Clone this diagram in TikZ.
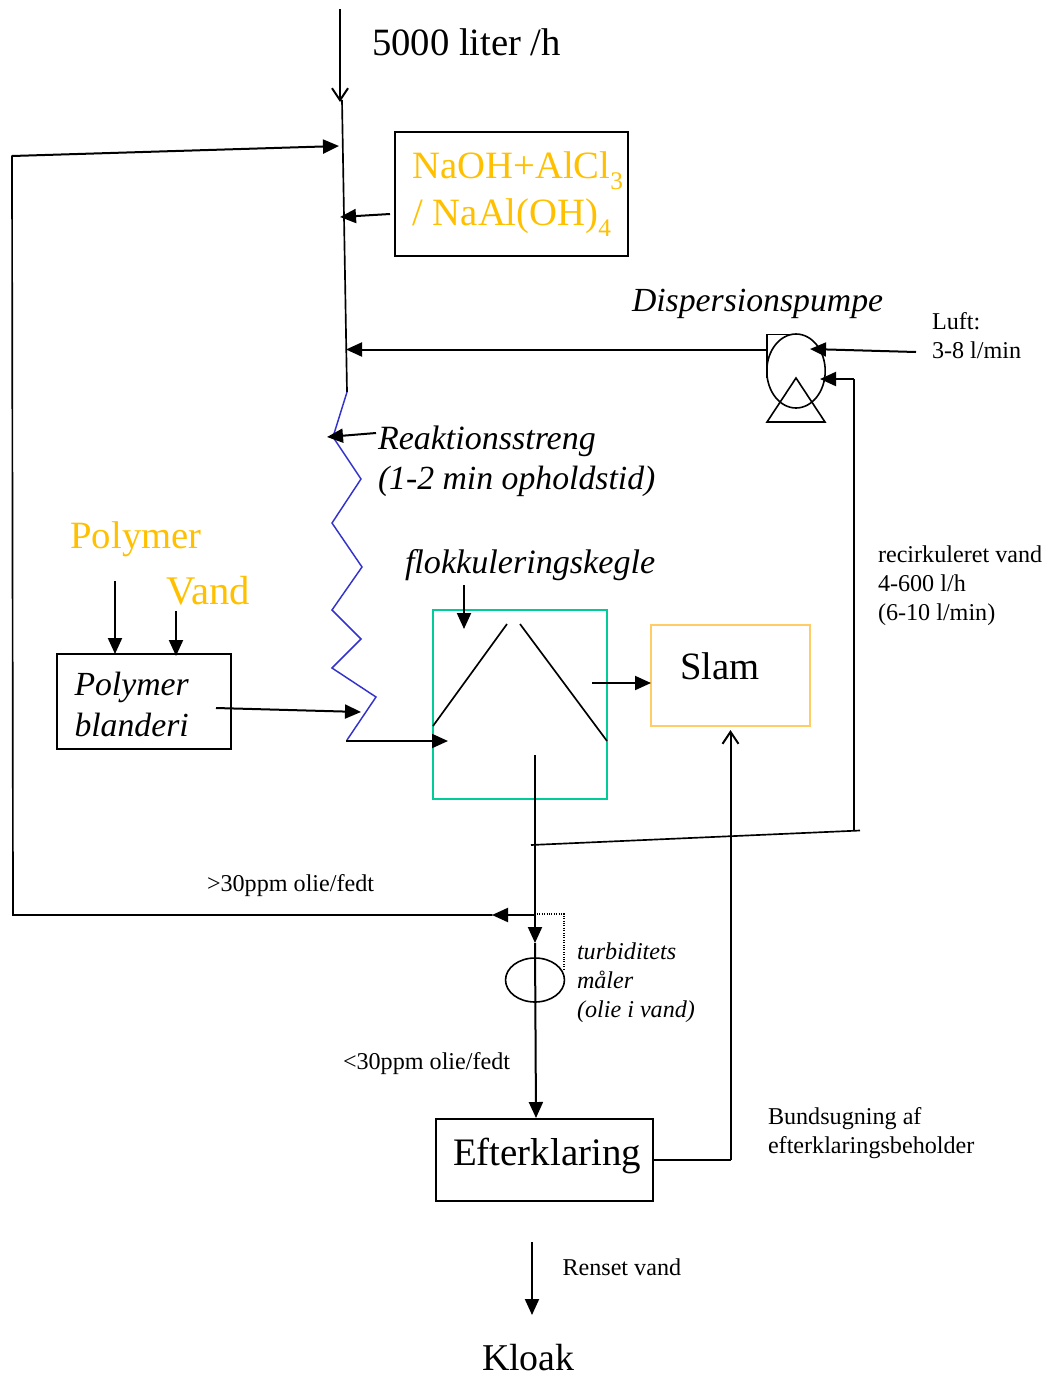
\documentclass[tikz,border=0pt]{standalone}
\usepackage{fontspec}
\setmainfont{Liberation Serif}
\usetikzlibrary{arrows.meta,shapes.geometric}
\definecolor{chemyellow}{HTML}{FFC000}
\definecolor{zigblue}{HTML}{3333CC}
\definecolor{conegreen}{HTML}{00CC99}
\definecolor{slamorange}{HTML}{FFCC66}
\newcommand{\fsBig}{\fontsize{29}{34}\selectfont}
\newcommand{\fsMid}{\fontsize{25.5}{30}\selectfont}
\newcommand{\fsSmall}{\fontsize{18.1}{22}\selectfont}
\newcommand{\subdown}[1]{\raisebox{-0.3em}{\fontsize{19}{22}\selectfont #1}}
\tikzset{
  x=0.75pt,y=-0.75pt,
  txt/.style={anchor=base west,inner sep=0pt,outer sep=0pt},
  big/.style={txt,font=\fsBig},
  mid/.style={txt,font=\fsMid\itshape},
  small/.style={txt,font=\fsSmall},
  smallit/.style={txt,font=\fsSmall\itshape},
  chem/.style={txt,font=\fsBig,text=chemyellow},
  thinline/.style={line width=1.25pt},
  flow/.style={line width=1.5pt},
  arr/.style={flow,-{Triangle[length=12pt,width=10.5pt]}},
  openarr/.style={flow,-{Straight Barb[length=9pt,width=12pt,line width=1.5pt]}},
  boxshape/.style={draw,line width=1.2pt,rectangle,inner sep=0pt,outer sep=0pt},
  pt/.style={inner sep=0pt,outer sep=0pt}
}
\begin{document}
\begin{tikzpicture}
\useasboundingbox (0,0) rectangle (1051,1375);
% boxes
\node[boxshape,minimum width=174.6pt,minimum height=93pt] (dose) at (511.5,194) {};
\node[boxshape,minimum width=130.5pt,minimum height=71.2pt] (mixer) at (144,701.5) {};
\node[boxshape,draw=conegreen,minimum width=130.5pt,minimum height=141.7pt] (cone) at (520,704.5) {};
\node[boxshape,draw=slamorange,minimum width=119.2pt,minimum height=75.7pt] (slam) at (730.5,675.5) {};
\node[boxshape,minimum width=162.7pt,minimum height=61.5pt] (after) at (544.5,1160) {};
% texts
\node[big] (tInflow) at (372,55) {5000 liter /h};
\node[chem] (tDoseA) at (412.5,178) {NaOH+AlCl\subdown{3}};
\node[chem] (tDoseB) at (412.5,225) {/ NaAl(OH)\subdown{4}};
\node[mid,font=\fontsize{25.3}{30}\selectfont\itshape] (tPump) at (632,311) {Dispersionspumpe};
\node[small] (tLuftA) at (932,329) {Luft:};
\node[small] (tLuftB) at (932,358) {3-8 l/min};
\node[mid] (tReakA) at (378,449.5) {Reaktionsstreng};
\node[mid,font=\fontsize{25.3}{30}\selectfont\itshape] (tReakB) at (378,489.5) {(1-2 min opholdstid)};
\node[chem] (tPolymer) at (70.5,548) {Polymer};
\node[chem,font=\fontsize{30.5}{36}\selectfont] (tVand) at (166.5,604) {Vand};
\node[mid,font=\fontsize{25.6}{30}\selectfont\itshape] (tFlok) at (405,573.5) {flokkuleringskegle};
\node[mid,font=\fontsize{25.3}{30}\selectfont\itshape] (tMixA) at (74.5,695) {Polymer};
\node[mid,font=\fontsize{25.3}{30}\selectfont\itshape] (tMixB) at (74.5,736) {blanderi};
\node[big] (tSlam) at (680,679) {Slam};
\node[small] (tRecA) at (878,562) {recirkuleret vand};
\node[small] (tRecB) at (878,591) {4-600 l/h};
\node[small] (tRecC) at (878,620) {(6-10 l/min)};
\node[small] (tHigh) at (207,891) {>30ppm olie/fedt};
\node[smallit] (tTurbA) at (577,959) {turbiditets};
\node[smallit] (tTurbB) at (577,988) {måler};
\node[smallit] (tTurbC) at (577,1017) {(olie i vand)};
\node[small] (tLow) at (343,1069) {<30ppm olie/fedt};
\node[small] (tBundA) at (768,1124) {Bundsugning af};
\node[small] (tBundB) at (768,1153) {efterklaringsbeholder};
\node[big,font=\fontsize{29.2}{34}\selectfont] (tAfter) at (453,1165) {Efterklaring};
\node[small] (tRenset) at (562.5,1275) {Renset vand};
\node[big,font=\fontsize{28.4}{33}\selectfont] (tKloak) at (482,1370) {Kloak};
% free connector ends
\coordinate (inTop) at (340,9);
\coordinate (inEnd) at (340,102);
\coordinate (mainTop) at (342,100);
\coordinate (mainBot) at (347,392);
\coordinate (z1) at (333,437);
\coordinate (z2) at (361,479);
\coordinate (z3) at (332,523);
\coordinate (z4) at (362,567);
\coordinate (z5) at (332,610);
\coordinate (z6) at (361,639);
\coordinate (z7) at (332,668);
\coordinate (z8) at (376,697);
\coordinate (z9) at (347,740);
\coordinate (coneIn) at (448,741);
\coordinate (z9b) at (346,741);
\coordinate (mixOut) at (216,708);
\coordinate (mixIn) at (361,712);
\coordinate (reakFrom) at (376,433);
\coordinate (reakTo) at (327,437);
\coordinate (doseFrom) at (390,214);
\coordinate (doseTo) at (340,217);
\coordinate (pumpOut) at (767,349.5);
\coordinate (pumpTo) at (346,349.5);
\coordinate (recTop) at (854,379);
\coordinate (recPump) at (820,379);
\coordinate (recBot) at (854,830);
\coordinate (splitR) at (860,830.5);
\coordinate (splitL) at (531,845);
\coordinate (backTopL) at (12,156);
\coordinate (backTopR) at (339,146);
\coordinate (backBotL) at (13,915);
\coordinate (backJ) at (535,915);
\coordinate (backTip) at (492,915);
\coordinate (dotC) at (564,914);
\coordinate (dotE) at (564,970);
\coordinate (dotS) at (537,914);
\coordinate (coneOut) at (535,755);
\coordinate (meterTip) at (535,943);
\coordinate (afterIn) at (536,1118);
\coordinate (afterOut) at (654,1160);
\coordinate (bundC) at (730.5,1160);
\coordinate (bundTo) at (730.5,730);
\coordinate (slamFrom) at (592,683);
\coordinate (slamTo) at (651,683);
\coordinate (coneL1) at (433,726);
\coordinate (coneL2) at (507,624);
\coordinate (coneR1) at (520,624);
\coordinate (coneR2) at (607,741);
\coordinate (flokFrom) at (464,585);
\coordinate (flokTo) at (464,629);
\coordinate (polyFrom) at (115,581);
\coordinate (polyTo) at (115,654);
\coordinate (vandFrom) at (176,611);
\coordinate (vandTo) at (176,656);
\coordinate (luftFrom) at (916,352);
\coordinate (luftTo) at (810,349);
\coordinate (rensFrom) at (532,1242);
\coordinate (rensTo) at (532,1315);
\coordinate (pA) at (767,378);
\coordinate (pB) at (767,334.5);
\coordinate (pC) at (797,334.5);
\coordinate (tA) at (796,378);
\coordinate (tB) at (767,422);
\coordinate (tC) at (825,422);
% shapes: meter and pump
\node[draw,ellipse,line width=1.2pt,minimum width=44.2pt,minimum height=33pt,pt] (meter) at (535,980) {};
\node[draw,ellipse,line width=1.2pt,minimum width=43.8pt,minimum height=55.5pt,pt] (pump) at (796,371) {};
\draw[line width=1.2pt] (pA) -- (pB) -- (pC);
\draw[line width=1.2pt,line join=miter] (tA) -- (tB) -- (tC) -- cycle;
% connectors
\draw[openarr] (inTop) -- (inEnd);
\draw[thinline] (mainTop) -- (mainBot);
\draw[line width=1.1pt,zigblue] (mainBot) -- (z1) -- (z2) -- (z3) -- (z4) -- (z5) -- (z6) -- (z7) -- (z8) -- (z9);
\draw[arr] (z9b) -- (coneIn);
\draw[arr] (mixOut) -- (mixIn);
\draw[arr] (reakFrom) -- (reakTo);
\draw[arr] (doseFrom) -- (doseTo);
\draw[arr] (pumpOut) -- (pumpTo);
\draw[arr] (recTop) -- (recPump);
\draw[thinline] (recTop) -- (recBot);
\draw[thinline] (splitR) -- (splitL);
\draw[arr] (backTopL) -- (backTopR);
\draw[thinline,line cap=round] (backTopL) -- (backBotL) -- (backTip);
\draw[arr] (backJ) -- (backTip);
\draw[densely dotted,line width=0.8pt] (dotS) -- (dotC) -- (dotE);
\draw[arr] (coneOut) -- (meterTip);
\draw[arr] (meterTip) -- (afterIn);
\draw[flow] (afterOut) -- (bundC);
\draw[openarr] (bundC) -- (bundTo);
\draw[arr] (slamFrom) -- (slamTo);
\draw[thinline] (coneL1) -- (coneL2);
\draw[thinline] (coneR1) -- (coneR2);
\draw[arr] (flokFrom) -- (flokTo);
\draw[arr] (polyFrom) -- (polyTo);
\draw[arr] (vandFrom) -- (vandTo);
\draw[arr] (luftFrom) -- (luftTo);
\draw[arr] (rensFrom) -- (rensTo);
\end{tikzpicture}
\end{document}
